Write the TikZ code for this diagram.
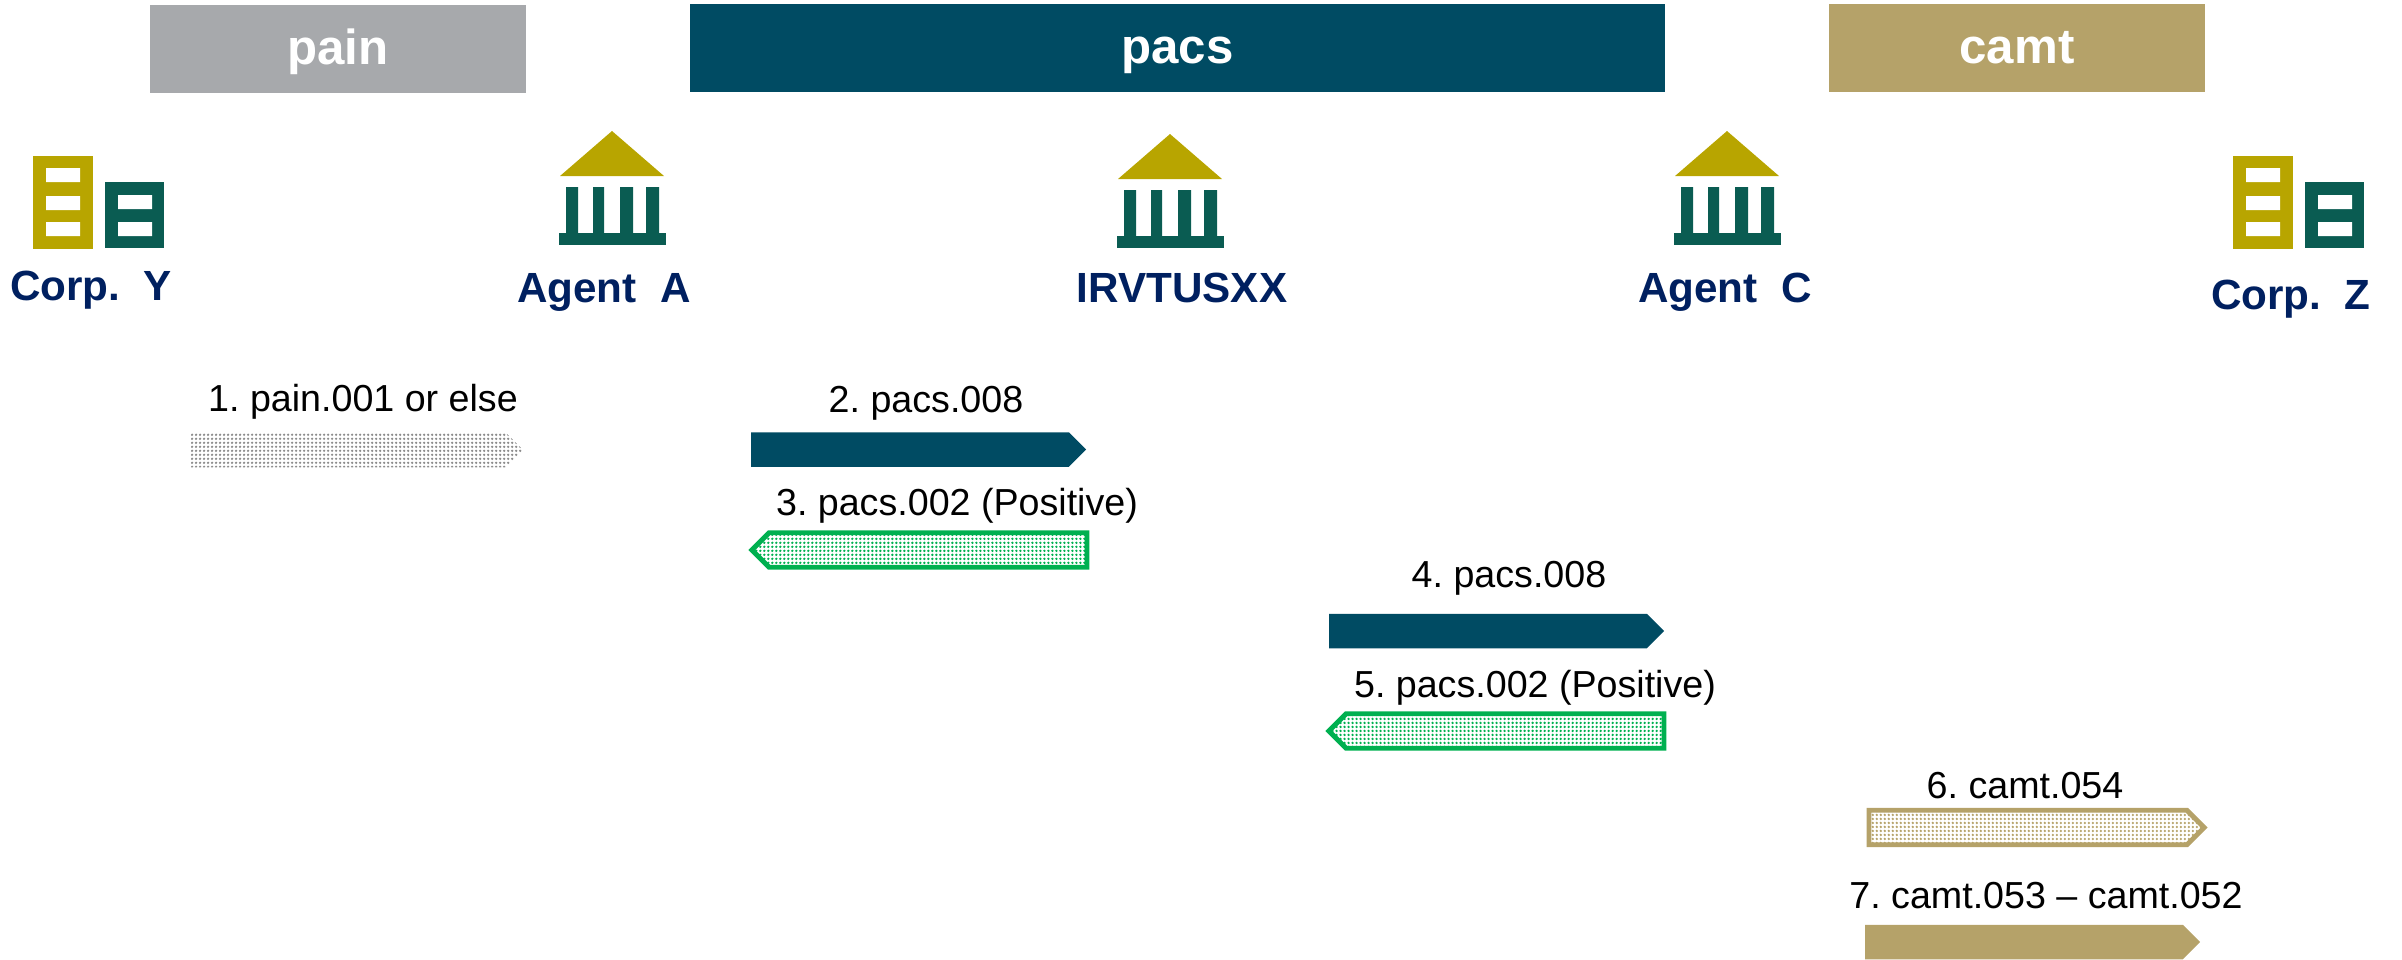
\documentclass[tikz,border=0pt]{standalone}
\usepackage{fontspec}
\setmainfont{Liberation Sans}
\usetikzlibrary{patterns.meta}
\usetikzlibrary{positioning}
\usetikzlibrary{shapes.symbols}
\definecolor{painGray}{HTML}{A7A9AC}
\definecolor{pacsBlue}{HTML}{004B63}
\definecolor{camtGold}{HTML}{B5A269}
\definecolor{iconOlive}{HTML}{B8A500}
\definecolor{iconTeal}{HTML}{0A5C52}
\definecolor{labelNavy}{HTML}{002060}
\definecolor{ackGreen}{HTML}{00B050}

\begin{document}
\frenchspacing
\begin{tikzpicture}[
    x=0.01cm, y=-0.01cm,
    every node/.style={font=\fontsize{10.7pt}{12pt}\selectfont, inner sep=0pt, outer sep=0pt},
    band/.style={rectangle, minimum height=0.88cm, text height=0.40cm, text depth=0.10cm, text=white, font=\fontsize{14pt}{16pt}\selectfont\bfseries},
    party/.style={anchor=base, text=labelNavy, font=\fontsize{12pt}{14pt}\selectfont\bfseries},
    msg/.style={anchor=base},
    flow/.style={signal, signal from=nowhere, signal to=east, signal pointer angle=90, minimum height=0.345cm, anchor=west},
    back/.style={signal, signal from=nowhere, signal to=west, signal pointer angle=90, minimum height=0.345cm, anchor=east},
    dotted fill/.style={pattern={Dots[radius=0.013cm, distance=0.04cm, angle=0]}, pattern color=#1},
    corp/.pic={
        \fill[iconOlive] (0,0) rectangle (60,93);
        \fill[iconTeal] (72,26) rectangle (131,92);
        \fill[white] (13,12) rectangle (47,26) (13,40) rectangle (47,54) (13,66) rectangle (47,80);
        \fill[white] (85,39) rectangle (119,53) (85,66) rectangle (119,80);
    },
    bank/.pic={
        \fill[iconOlive] (0,-45) -- (52,0) -- (-52,0) -- cycle;
        \fill[iconTeal] (-46,11) rectangle (-34,57) (-19,11) rectangle (-8,57) (8,11) rectangle (21,57) (34,11) rectangle (47,57);
        \fill[iconTeal] (-53,57) rectangle (54,69);
    }
]
\useasboundingbox (0,0) rectangle (2402,959);

% Header bands
\node[band, fill=painGray, minimum width=3.76cm] (pain) at (338,49) {pain\hspace{0.04cm}};
\node[band, fill=pacsBlue, minimum width=9.75cm] (pacs) at (1177.5,48) {pacs};
\node[band, fill=camtGold, minimum width=3.76cm] (camt) at (2017,48) {camt};

% Icons
\pic (corpYicon) at (33,156) {corp};
\pic (agentAicon) at (612,176) {bank};
\pic (irvtIcon) at (1170,179) {bank};
\pic (agentCicon) at (1727,176) {bank};
\pic (corpZicon) at (2233,156) {corp};

% Parties
\node[party] (corpY) at (91,300) {Corp.\ \ Y};
\node[party] (agentA) at (604,302) {Agent\ \ A};
\node[party] (irvt) at (1182,302) {IRVTUSXX};
\node[party] (agentC) at (1725,302) {Agent\ \ C};
\node[party] (corpZ) at (2291,309) {Corp.\ \ Z};

% Messages
\node[flow, dotted fill=black!45, minimum width=3.32cm] (msgOne) at (191,450) {};
\node[flow, fill=pacsBlue, minimum width=3.35cm] (msgTwo) at (751,449.5) {};
\node[back, dotted fill=ackGreen, draw=ackGreen, line width=1.4pt, minimum width=3.35cm] (msgThree) at (1087,550) {};
\node[flow, fill=pacsBlue, minimum width=3.35cm] (msgFour) at (1329,631) {};
\node[back, dotted fill=ackGreen, draw=ackGreen, line width=1.4pt, minimum width=3.35cm] (msgFive) at (1664,731) {};
\node[flow, dotted fill=camtGold, draw=camtGold, line width=1.4pt, minimum width=3.35cm] (msgSix) at (1869,827.5) {};
\node[flow, fill=camtGold, minimum width=3.35cm] (msgSeven) at (1865,942) {};

% Labels
\node[msg] (txtOne) at (363,411) {1. pain.001 or else};
\node[msg] (txtTwo) at (926,412) {2. pacs.008};
\node[msg] (txtThree) at (957,515) {3. pacs.002 (Positive)};
\node[msg] (txtFour) at (1509,587) {4. pacs.008};
\node[msg] (txtFive) at (1535,697) {5. pacs.002 (Positive)};
\node[msg] (txtSix) at (2025,798) {6. camt.054};
\node[msg] (txtSeven) at (2046,908) {7. camt.053 -- camt.052};

\end{tikzpicture}
\end{document}
